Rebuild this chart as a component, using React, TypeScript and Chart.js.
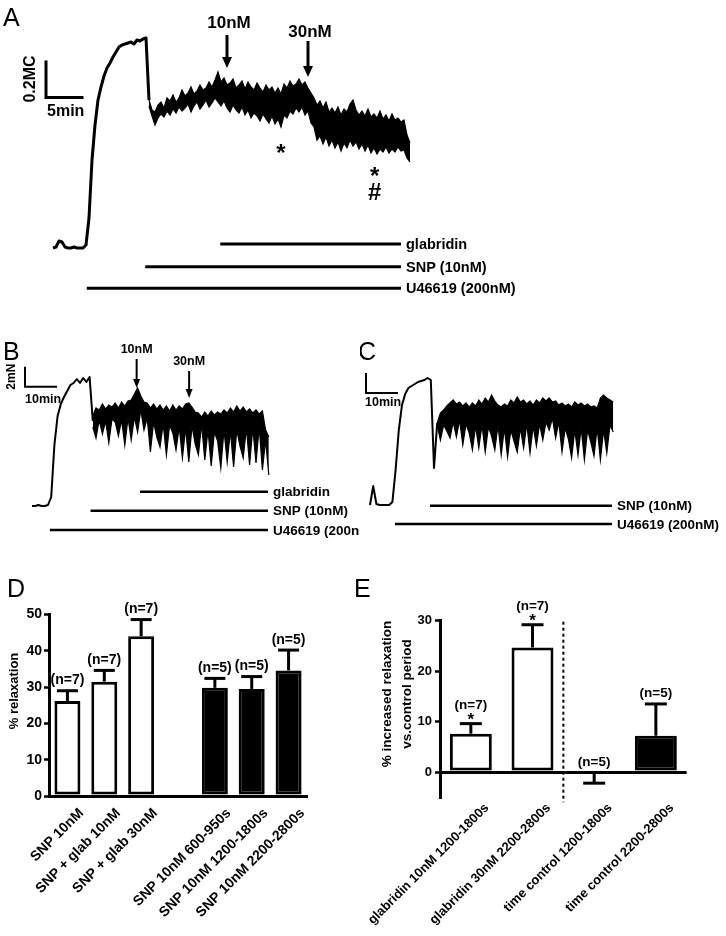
import React, { useEffect, useRef } from "react";
import { Chart, registerables } from "chart.js";

Chart.register(...registerables);

const FONT = "'Liberation Sans', Arial, Helvetica, sans-serif";
const INK = "#000000";

/* ================= DATA ================= */

/* Panel A: tension (a.u.; 37 a.u. = 0.2MC), sampled every 0.4 min */
const A_SAMPLE_MIN = 0.4;
const A_TRACE = [
  0, 1, 7, 6, 1, 0, 0, 1, 0, 0, 0, 3, 30, 88, 123, 148, 161, 172, 180, 185,
  191, 196, 201, 203, 204, 205, 206, 204, 208, 207, 209, 210, 148,
];
/* oscillating part after SNP: upper / lower envelope of the trace, from 12.8 min */
const A_BAND_START = 12.8;
const A_BAND_HIGH = [
  148, 138, 136, 143, 146, 140, 150, 147, 153, 146, 150, 158, 152, 155, 161, 154, 157, 163, 158, 160,
  166, 161, 168, 176, 166, 170, 163, 165, 169, 160, 163, 167, 159, 166, 161, 158, 165, 160, 156, 163,
  158, 161, 155, 160, 154, 164, 160, 167, 162, 164, 169, 163, 166, 160, 155, 150, 143, 147, 140, 146,
  136, 140, 135, 141, 133, 139, 136, 144, 148, 138, 133, 137, 132, 139, 131, 134, 130, 137, 129, 133,
  127, 134, 128, 130, 126, 128, 113, 105,
];
const A_BAND_LOW = [
  142, 132, 123, 130, 134, 131, 137, 133, 139, 135, 141, 137, 140, 144, 136, 142, 146, 139, 143, 148,
  141, 145, 150, 146, 142, 147, 140, 136, 143, 138, 135, 141, 133, 138, 130, 135, 132, 127, 134, 129,
  125, 132, 124, 129, 121, 133, 130, 137, 134, 140, 136, 141, 133, 137, 125, 121, 108, 112, 104, 111,
  102, 108, 100, 106, 97, 105, 100, 108, 102, 106, 99, 104, 97, 103, 95, 100, 94, 99, 96, 101,
  95, 99, 96, 101, 97, 98, 90, 86,
];
const A_SCALE_UNITS = 37; // 0.2MC
const A_SCALE_MIN = 5;
const A_DOSE_LABELS = ["10nM", "30nM"];
const A_DOSE_TIMES = [23.2, 34.0];
const A_SIG_MARKS = ["*", "*", "#"];
const A_SIG_TIMES = [30.4, 42.9, 42.9];
const A_DRUG_NAMES = ["glabridin", "SNP (10nM)", "U46619 (200nM)"];
const A_DRUG_START = [22.3, 12.3, 4.5];
const A_DRUG_END = [46.4, 46.4, 46.4];

/* Panel B: tension (mN), sampled every 1 min */
const B_SAMPLE_MIN = 1;
const B_TRACE = [0, 0, 0.1, 0, 0, 0.1, 0.9, 6.1, 9.0, 10.2, 10.9, 11.5, 12.1, 12.3, 12.7, 12.3, 12.8, 12.4, 12.9, 8.5];
const B_BAND_START = 19;
const B_BAND_HIGH = [
  9.0, 9.8, 9.6, 10.2, 9.7, 10.1, 9.9, 10.3, 9.8, 10.4, 10.0, 10.5, 10.6, 11.2, 11.8, 11.0, 10.4, 10.3, 9.8, 10.2,
  9.7, 10.1, 9.6, 10.0, 9.5, 10.1, 9.6, 10.0, 9.7, 10.2, 10.3, 9.9, 9.4, 9.3, 8.9, 9.4, 9.0, 9.5, 9.1, 9.4,
  9.2, 9.6, 9.3, 9.8, 9.4, 10.0, 9.5, 9.9, 9.4, 9.7, 9.3, 9.6, 9.2, 9.5, 7.6, 6.9,
];
const B_BAND_LOW = [
  7.9, 6.8, 8.6, 7.2, 8.5, 6.3, 8.7, 8.4, 7.0, 8.6, 6.1, 8.8, 6.6, 8.9, 7.4, 9.6, 7.6, 8.8, 5.4, 8.4,
  6.9, 5.9, 8.2, 5.1, 8.1, 7.3, 5.6, 7.9, 4.8, 7.8, 4.4, 8.0, 6.2, 5.1, 8.2, 4.6, 7.6, 4.0, 7.4, 6.5,
  3.8, 7.6, 4.4, 7.5, 3.9, 7.6, 6.0, 4.8, 7.8, 4.1, 7.8, 4.3, 7.9, 3.6, 6.6, 3.1,
];
const B_SCALE_MN = 2;
const B_SCALE_MIN = 10;
const B_DOSE_LABELS = ["10nM", "30nM"];
const B_DOSE_TIMES = [32.7, 49.1];
const B_DRUG_NAMES = ["glabridin", "SNP (10nM)", "U46619 (200nM)"];
const B_DRUG_START = [33.75, 18.3, 5.6];
const B_DRUG_END = [73.75, 73.75, 73.75];

/* Panel C: tension (mN), sampled every 1 min */
const C_SAMPLE_MIN = 1;
const C_TRACE = [0, 1.9, 0.1, 0, 0, 0, 0, 0.3, 3.5, 7.5, 10.0, 11.1, 11.7, 11.9, 12.1, 12.3, 12.4, 12.5, 12.7, 12.5, 3.7, 8.2];
const C_BAND_START = 21;
const C_BAND_HIGH = [
  8.2, 9.2, 9.5, 9.9, 10.2, 10.5, 10.1, 10.3, 9.9, 10.2, 9.8, 10.2, 9.9, 10.5, 10.1, 10.7, 10.3, 11.0, 10.4, 10.0,
  9.8, 10.1, 9.9, 10.5, 10.2, 10.8, 10.3, 10.5, 10.1, 10.4, 10.0, 10.5, 10.2, 10.7, 10.4, 10.7, 10.3, 10.4, 10.0, 10.2,
  9.9, 10.1, 9.8, 10.3, 10.0, 10.2, 9.9, 10.1, 9.8, 9.9, 9.7, 10.7, 11.0, 10.7, 10.5, 10.3,
];
const C_BAND_LOW = [
  8.0, 6.5, 8.0, 7.4, 6.7, 8.3, 6.8, 8.5, 6.0, 8.1, 7.2, 5.5, 7.9, 5.7, 8.0, 5.3, 7.8, 6.9, 5.5, 8.0,
  5.0, 7.7, 4.8, 7.5, 6.4, 5.3, 7.7, 5.7, 8.1, 5.2, 7.9, 5.9, 8.1, 6.5, 8.3, 7.5, 8.7, 6.7, 8.3, 5.3,
  7.7, 6.6, 4.7, 7.5, 5.0, 7.7, 4.5, 7.5, 6.3, 4.9, 7.7, 4.5, 7.5, 5.2, 8.0, 7.3,
];
const C_SCALE_MN = 2;
const C_SCALE_MIN = 10;
const C_DRUG_NAMES = ["SNP (10nM)", "U46619 (200nM)"];
const C_DRUG_START = [18.75, 7.8];
const C_DRUG_END = [75.6, 75.6];

/* Panel D: % relaxation */
const D_LABELS = [
  "SNP 10nM", "SNP + glab 10nM", "SNP + glab 30nM", "",
  "SNP 10nM 600-950s", "SNP 10nM 1200-1800s", "SNP 10nM 2200-2800s",
];
const D_MEANS = [26.2, 31.5, 44.0, null, 29.8, 29.5, 34.6];
const D_SEM = [2.8, 3.1, 4.6, null, 2.6, 3.4, 5.6];
const D_N = ["(n=7)", "(n=7)", "(n=7)", "", "(n=5)", "(n=5)", "(n=5)"];
const D_FILLS = ["#ffffff", "#ffffff", "#ffffff", "#ffffff", INK, INK, INK];
const D_Y_TICKS = [0, 10, 20, 30, 40, 50];

/* Panel E: % increased relaxation vs. control period */
const E_LABELS = [
  "glabridin 10nM 1200-1800s", "glabridin 30nM 2200-2800s",
  "time control 1200-1800s", "time control 2200-2800s",
];
const E_MEANS = [7.6, 24.7, -0.3, 7.2];
const E_SEM = [2.0, 4.5, 1.9, 6.3];
const E_N = ["(n=7)", "(n=7)", "(n=5)", "(n=5)"];
const E_STARS = ["*", "*", "", ""];
const E_FILLS = ["#ffffff", "#ffffff", INK, INK];
const E_Y_TICKS = [0, 10, 20, 30];

/* ================= LAYOUT ================= */

const A_FRAME = { left: 0, top: 0, width: 530, height: 312, originX: 53, originY: 248, pxPerX: 7.5, pxPerY: 1 };
const B_FRAME = { left: 0, top: 330, width: 360, height: 215, originX: 32, originY: 506, pxPerX: 3.2, pxPerY: 10 };
const C_FRAME = { left: 360, top: 330, width: 366, height: 215, originX: 370, originY: 505, pxPerX: 3.2, pxPerY: 10 };

/* ================= DRAW HELPERS ================= */

function txt(ctx: any, s: string, x: number, y: number, size: number, align = "center", baseline = "alphabetic", bold = true, rot = 0) {
  ctx.save();
  ctx.font = `${bold ? "bold " : ""}${size}px ${FONT}`;
  ctx.fillStyle = INK;
  ctx.textAlign = align;
  ctx.textBaseline = baseline;
  ctx.translate(x, y);
  if (rot) ctx.rotate(rot);
  ctx.fillText(s, 0, 0);
  ctx.restore();
}

function seg(ctx: any, x1: number, y1: number, x2: number, y2: number, w: number, dash: number[] = []) {
  ctx.save();
  ctx.strokeStyle = INK;
  ctx.lineWidth = w;
  ctx.lineCap = "butt";
  ctx.setLineDash(dash);
  ctx.beginPath();
  ctx.moveTo(x1, y1);
  ctx.lineTo(x2, y2);
  ctx.stroke();
  ctx.restore();
}

function arrowDown(ctx: any, x: number, y0: number, y1: number, w: number, hw: number, hl: number) {
  seg(ctx, x, y0, x, y1 - hl + 1, w);
  ctx.save();
  ctx.fillStyle = INK;
  ctx.beginPath();
  ctx.moveTo(x - hw / 2, y1 - hl);
  ctx.lineTo(x + hw / 2, y1 - hl);
  ctx.lineTo(x, y1);
  ctx.closePath();
  ctx.fill();
  ctx.restore();
}

function scaleBar(ctx: any, x: number, y: number, w: number, h: number, lw: number) {
  ctx.save();
  ctx.strokeStyle = INK;
  ctx.lineWidth = lw;
  ctx.lineJoin = "miter";
  ctx.beginPath();
  ctx.moveTo(x, y - h);
  ctx.lineTo(x, y);
  ctx.lineTo(x + w, y);
  ctx.stroke();
  ctx.restore();
}

/* ================= TRACE PANELS ================= */

function traceConfig(f: any, t: any, draw: (ctx: any, X: (t: number) => number, Y: (v: number) => number) => void) {
  const xMin = -(f.originX - f.left) / f.pxPerX;
  const yMax = (f.originY - f.top) / f.pxPerY;
  const pts = (arr: number[], t0: number) => arr.map((v, i) => ({ x: t0 + i * t.step, y: v }));
  return {
    type: "line",
    data: {
      datasets: [
        { data: pts(t.trace, 0), borderColor: INK, borderWidth: t.lw, pointRadius: 0, tension: 0, borderJoinStyle: "round", fill: false },
        { data: pts(t.high, t.bandStart), borderColor: INK, borderWidth: 1.2, pointRadius: 0, tension: 0, fill: false },
        { data: pts(t.low, t.bandStart), borderColor: INK, borderWidth: 1.2, pointRadius: 0, tension: 0, fill: "-1", backgroundColor: INK },
      ],
    },
    options: {
      animation: false,
      responsive: false,
      events: [],
      layout: { padding: 0 },
      plugins: { legend: { display: false }, tooltip: { enabled: false } },
      scales: {
        x: { type: "linear", display: false, min: xMin, max: xMin + f.width / f.pxPerX },
        y: { type: "linear", display: false, min: yMax - f.height / f.pxPerY, max: yMax },
      },
    },
    plugins: [
      {
        id: "traceAnnotations",
        afterDraw(c: any) {
          const ctx = c.ctx;
          const X = (tt: number) => c.scales.x.getPixelForValue(tt) + f.left;
          const Y = (v: number) => c.scales.y.getPixelForValue(v) + f.top;
          ctx.save();
          ctx.translate(-f.left, -f.top);
          draw(ctx, X, Y);
          ctx.restore();
        },
      },
    ],
  };
}

function drawDrugRows(ctx: any, X: any, names: string[], start: number[], end: number[], rows: number[], lw: number, size: number) {
  names.forEach((n, i) => {
    seg(ctx, X(start[i]), rows[i], X(end[i]), rows[i], lw);
    txt(ctx, n, X(end[i]) + 5, rows[i] + 1, size, "left", "middle");
  });
}

const makeA = () =>
  traceConfig(
    A_FRAME,
    { trace: A_TRACE, high: A_BAND_HIGH, low: A_BAND_LOW, bandStart: A_BAND_START, step: A_SAMPLE_MIN, lw: 3 },
    (ctx, X, Y) => {
      txt(ctx, "A", 3, 26, 25, "left", "alphabetic", false);
      const arrowTop = [35, 41];
      const arrowTip = [68, 77];
      const labelY = [28, 37];
      A_DOSE_TIMES.forEach((t, i) => {
        arrowDown(ctx, X(t), arrowTop[i], arrowTip[i], 3, 10, 11);
        txt(ctx, A_DOSE_LABELS[i], X(t) + 2, labelY[i], 17);
      });
      const sbW = X(A_SCALE_MIN) - X(0);
      const sbH = Y(0) - Y(A_SCALE_UNITS);
      scaleBar(ctx, 46, 97.5, sbW, sbH, 3);
      txt(ctx, "0.2MC", 31, 97.5 - sbH / 2, 16, "center", "middle", true, -Math.PI / 2);
      txt(ctx, "5min", 47, 116, 16, "left");
      const sigY = [161, 184, 200];
      A_SIG_MARKS.forEach((m, i) => txt(ctx, m, X(A_SIG_TIMES[i]), sigY[i], 24));
      drawDrugRows(ctx, X, A_DRUG_NAMES, A_DRUG_START, A_DRUG_END, [244, 266.7, 288.3], 3, 14.5);
    }
  );

const makeB = () =>
  traceConfig(
    B_FRAME,
    { trace: B_TRACE, high: B_BAND_HIGH, low: B_BAND_LOW, bandStart: B_BAND_START, step: B_SAMPLE_MIN, lw: 2 },
    (ctx, X, Y) => {
      txt(ctx, "B", 3, 360, 25, "left", "alphabetic", false);
      const arrowTop = [359, 371];
      const arrowTip = [388, 398];
      const labelY = [353, 365];
      B_DOSE_TIMES.forEach((t, i) => {
        arrowDown(ctx, X(t), arrowTop[i], arrowTip[i], 2, 7, 9);
        txt(ctx, B_DOSE_LABELS[i], X(t), labelY[i], 12.5);
      });
      const sbW = X(B_SCALE_MIN) - X(0);
      const sbH = Y(0) - Y(B_SCALE_MN);
      scaleBar(ctx, 25, 386.7, sbW, sbH, 2);
      txt(ctx, "2mN", 12, 386.7 - sbH / 2, 12, "center", "middle", true, -Math.PI / 2);
      txt(ctx, "10min", 25, 403, 12.5, "left");
      drawDrugRows(ctx, X, B_DRUG_NAMES, B_DRUG_START, B_DRUG_END, [491.7, 510.7, 530], 2.5, 13.5);
    }
  );

const makeC = () =>
  traceConfig(
    C_FRAME,
    { trace: C_TRACE, high: C_BAND_HIGH, low: C_BAND_LOW, bandStart: C_BAND_START, step: C_SAMPLE_MIN, lw: 2 },
    (ctx, X, Y) => {
      txt(ctx, "C", 358, 360, 25, "left", "alphabetic", false);
      const sbW = X(C_SCALE_MIN) - X(0);
      const sbH = Y(0) - Y(C_SCALE_MN);
      scaleBar(ctx, 366, 393, sbW, sbH, 2);
      txt(ctx, "2mN", 353, 393 - sbH / 2, 12, "center", "middle", true, -Math.PI / 2);
      txt(ctx, "10min", 365, 406, 12.5, "left");
      drawDrugRows(ctx, X, C_DRUG_NAMES, C_DRUG_START, C_DRUG_END, [505.7, 524], 2.5, 13.5);
    }
  );

/* ================= BAR PANELS ================= */

function barConfig(p: any) {
  return {
    type: "bar",
    data: {
      labels: p.labels,
      datasets: [
        {
          data: p.means,
          backgroundColor: p.fills,
          borderColor: INK,
          borderWidth: 3,
          borderSkipped: false,
          barPercentage: p.barPct,
          categoryPercentage: 1,
        },
      ],
    },
    options: {
      animation: false,
      responsive: false,
      events: [],
      layout: { padding: { left: p.padLeft, top: p.padTop, right: p.padRight, bottom: 0 } },
      plugins: { legend: { display: false }, tooltip: { enabled: false } },
      scales: {
        x: {
          grid: { display: true, drawOnChartArea: false, drawTicks: false, color: "rgba(0,0,0,0)" },
          border: { display: p.xBorder, color: INK, width: 3 },
          ticks: {
            color: INK,
            font: { family: FONT, size: p.xFont, weight: "bold" },
            minRotation: 45,
            maxRotation: 45,
            autoSkip: false,
            padding: p.xPad,
            labelOffset: p.xOffset,
          },
          afterFit: (s: any) => {
            s.height = p.xHeight;
            s.paddingLeft = 0;
            s.paddingRight = 0;
          },
        },
        y: {
          min: p.yMin,
          max: p.yMax,
          afterBuildTicks: (s: any) => {
            s.ticks = p.yTicks.map((v: number) => ({ value: v }));
          },
          ticks: { color: INK, font: { family: FONT, size: p.yFont, weight: "bold" }, padding: p.yPad },
          grid: {
            drawOnChartArea: p.zeroLine,
            drawTicks: true,
            tickLength: 5,
            tickWidth: 2.5,
            tickColor: INK,
            lineWidth: 3,
            color: (ctx: any) => (p.zeroLine && ctx.tick && ctx.tick.value === 0 ? INK : "rgba(0,0,0,0)"),
          },
          border: { display: true, color: INK, width: 3 },
          afterFit: (s: any) => {
            s.width = p.yWidth;
          },
        },
      },
    },
    plugins: [
      {
        id: "errAndLabels",
        afterDatasetsDraw(c: any) {
          const ctx = c.ctx;
          const y = c.scales.y;
          const meta = c.getDatasetMeta(0);
          meta.data.forEach((el: any, i: number) => {
            const m = p.means[i];
            if (m === null || m === undefined) return;
            const e = p.sem[i];
            const sign = m < 0 ? -1 : 1;
            const yBar = y.getPixelForValue(m);
            const yCap = y.getPixelForValue(m + sign * e);
            seg(ctx, el.x, yBar, el.x, yCap, 3);
            seg(ctx, el.x - p.capW / 2, yCap, el.x + p.capW / 2, yCap, 3);
            const top = Math.min(yBar, yCap, y.getPixelForValue(0));
            const star = p.stars ? p.stars[i] : "";
            if (star) {
              txt(ctx, star, el.x, top - 8 + 0.57 * p.starSize, p.starSize);
              txt(ctx, p.n[i], el.x, top - 15, p.nFont);
            } else {
              txt(ctx, p.n[i], el.x, top - 6.5, p.nFont);
            }
          });
        },
      },
      {
        id: "panelText",
        afterDraw(c: any) {
          p.extra(c.ctx, c);
        },
      },
    ],
  };
}

const makeD = () =>
  barConfig({
    labels: D_LABELS,
    means: D_MEANS,
    sem: D_SEM,
    n: D_N,
    fills: D_FILLS,
    barPct: 0.705,
    padLeft: 0,
    padTop: 54.5,
    padRight: 39,
    xBorder: true,
    xFont: 14,
    xPad: 9,
    xOffset: 14,
    xHeight: 140,
    yMin: 0,
    yMax: 50,
    yTicks: D_Y_TICKS,
    yFont: 14,
    yPad: 2,
    yWidth: 49,
    zeroLine: false,
    capW: 21,
    nFont: 14,
    extra: (ctx: any) => {
      txt(ctx, "D", 7, 37, 25, "left", "alphabetic", false);
      txt(ctx, "% relaxation", 14, 131, 13, "center", "middle", true, -Math.PI / 2);
    },
  });

/* E canvas starts at page x = 346 */
const makeE = () =>
  barConfig({
    labels: E_LABELS,
    means: E_MEANS,
    sem: E_SEM,
    n: E_N,
    stars: E_STARS,
    starSize: 17,
    fills: E_FILLS,
    barPct: 0.68,
    padLeft: 0,
    padTop: 60.7,
    padRight: 39.3,
    xBorder: false,
    xFont: 13,
    xPad: 3,
    xOffset: 16,
    xHeight: 138.7,
    yMin: -5,
    yMax: 30,
    yTicks: E_Y_TICKS,
    yFont: 13,
    yPad: 3,
    yWidth: 94,
    zeroLine: true,
    capW: 22,
    nFont: 13.5,
    extra: (ctx: any, c: any) => {
      txt(ctx, "E", 8, 37, 25, "left", "alphabetic", false);
      txt(ctx, "% increased relaxation", 41, 134, 13.5, "center", "middle", true, -Math.PI / 2);
      txt(ctx, "vs.control period", 61, 134, 13.5, "center", "middle", true, -Math.PI / 2);
      const x = c.scales.x.getPixelForValue(1.5);
      seg(ctx, x, c.scales.y.getPixelForValue(30) + 1, x, c.chartArea.bottom + 5, 2, [3, 3]);
    },
  });

/* ================= COMPONENTS ================= */

function ChartCanvas(props: { left: number; top: number; width: number; height: number; make: () => any }) {
  const ref = useRef<HTMLCanvasElement>(null);
  useEffect(() => {
    const chart = new Chart(ref.current as HTMLCanvasElement, props.make());
    return () => chart.destroy();
  }, []);
  return (
    <canvas
      ref={ref}
      width={props.width}
      height={props.height}
      style={{ position: "absolute", left: props.left, top: props.top, width: props.width, height: props.height }}
    />
  );
}

export default function App() {
  return (
    <div style={{ position: "absolute", left: 0, top: 0, width: 726, height: 936, background: "#fff", overflow: "hidden" }}>
      <ChartCanvas left={A_FRAME.left} top={A_FRAME.top} width={A_FRAME.width} height={A_FRAME.height} make={makeA} />
      <ChartCanvas left={B_FRAME.left} top={B_FRAME.top} width={B_FRAME.width} height={B_FRAME.height} make={makeB} />
      <ChartCanvas left={C_FRAME.left} top={C_FRAME.top} width={C_FRAME.width} height={C_FRAME.height} make={makeC} />
      <ChartCanvas left={0} top={560} width={346} height={376} make={makeD} />
      <ChartCanvas left={346} top={560} width={380} height={376} make={makeE} />
    </div>
  );
}
